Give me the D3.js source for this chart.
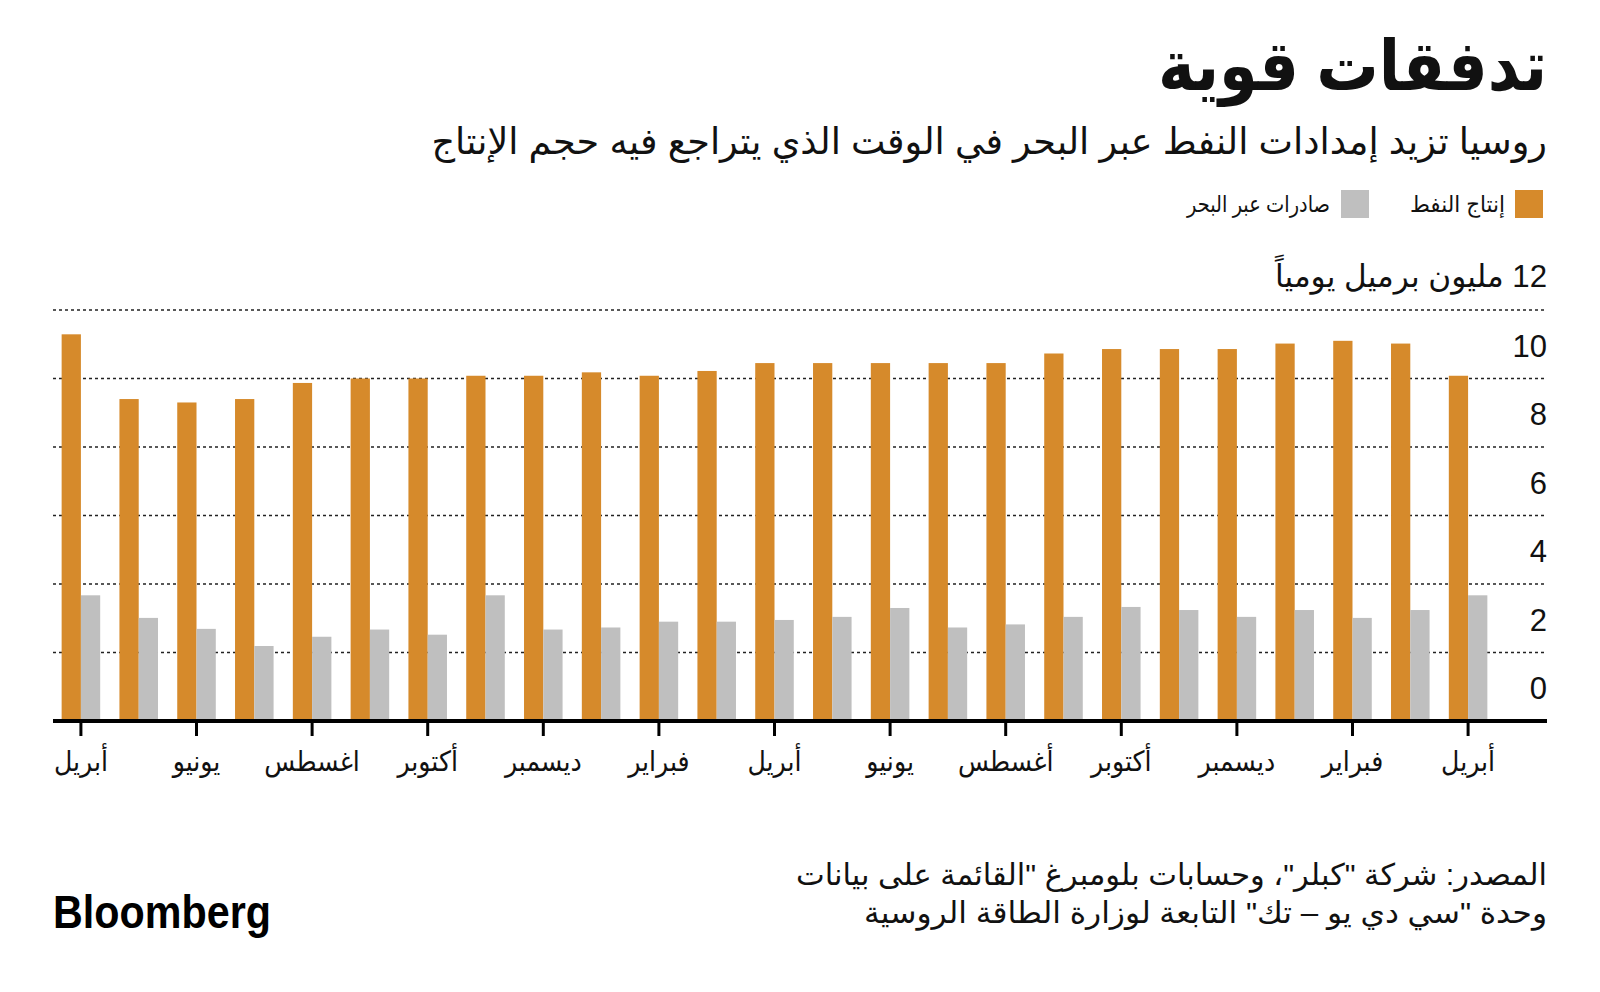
<!DOCTYPE html>
<html><head><meta charset="utf-8">
<script src="https://cdn.jsdelivr.net/npm/d3@7"></script>
<style>
body{margin:0;background:#fff}
svg{display:block}
text{font-family:"Liberation Sans","DejaVu Sans",sans-serif;fill:#111}
</style>
</head><body>
<svg id="chart" width="1600" height="992"></svg>
<script>
// ---- data ----
const months = ["2021-04","2021-05","2021-06","2021-07","2021-08","2021-09","2021-10","2021-11","2021-12",
  "2022-01","2022-02","2022-03","2022-04","2022-05","2022-06","2022-07","2022-08","2022-09","2022-10",
  "2022-11","2022-12","2023-01","2023-02","2023-03","2023-04"];
const production = [11.29,9.40,9.30,9.40,9.87,10.0,10.0,10.08,10.08,10.18,10.08,10.22,10.45,
  10.45,10.45,10.45,10.45,10.73,10.86,10.86,10.86,11.02,11.10,11.02,10.08];
const seaborne = [3.67,3.01,2.69,2.19,2.46,2.67,2.52,3.67,2.67,2.73,2.90,2.90,2.95,
  3.04,3.30,2.73,2.82,3.04,3.33,3.24,3.04,3.24,3.01,3.24,3.67];
const tickMonths = ["2021-04","2021-06","2021-08","2021-10","2021-12","2022-02","2022-04",
  "2022-06","2022-08","2022-10","2022-12","2023-02","2023-04"];
const tickLabels = ["أبريل","يونيو","اغسطس","أكتوبر","ديسمبر","فبراير","أبريل",
  "يونيو","أغسطس","أكتوبر","ديسمبر","فبراير","أبريل"];
const yTicks = [0,2,4,6,8,10];
const yGrid = [2,4,6,8,10,12];
const seriesKeys = ["production","seaborne"];
const seriesNames = ["إنتاج النفط","صادرات عبر البحر"];
const unitLabel = "12 مليون برميل يومياً";
const title = "تدفقات قوية";
const subtitle = "روسيا تزيد إمدادات النفط عبر البحر في الوقت الذي يتراجع فيه حجم الإنتاج";
const source1 = "المصدر: شركة \"كبلر\"، وحسابات بلومبرغ \"القائمة على بيانات";
const source2 = "وحدة \"سي دي يو – تك\" التابعة لوزارة الطاقة الروسية";

// ---- styles ----
const colors = {production:"#D68A2B", seaborne:"#BFBFBF"};
const svg = d3.select("#chart");
const RIGHT = 1547, LEFT = 53;

const rows = months.map((m,i)=>({month:m, production:production[i], seaborne:seaborne[i]}));

const x = d3.scaleBand().domain(months).range([52,1497]).paddingInner(0.333).paddingOuter(0.1667);
const xs = d3.scaleBand().domain(seriesKeys).range([0,x.bandwidth()]);
const y = d3.scaleLinear().domain([0,12]).range([721,310]);

// grid
svg.append("g").selectAll("line").data(yGrid).join("line")
  .attr("x1",LEFT).attr("x2",RIGHT).attr("y1",d=>y(d)).attr("y2",d=>y(d))
  .attr("stroke","#222").attr("stroke-width",1.6).attr("stroke-dasharray","3,3");

// bars
svg.append("g").selectAll("g").data(rows).join("g")
  .attr("transform",d=>`translate(${x(d.month)},0)`)
  .selectAll("rect").data(d=>seriesKeys.map(k=>({k,v:d[k]}))).join("rect")
  .attr("x",d=>xs(d.k)).attr("width",xs.bandwidth())
  .attr("y",d=>y(d.v)).attr("height",d=>y(0)-y(d.v))
  .attr("fill",d=>colors[d.k]);

// baseline
svg.append("line").attr("x1",LEFT).attr("x2",RIGHT).attr("y1",y(0)).attr("y2",y(0))
  .attr("stroke","#000").attr("stroke-width",4);

// x axis ticks + labels
const tickX = m => x(m)+x.bandwidth()/2;
svg.append("g").selectAll("line").data(tickMonths).join("line")
  .attr("x1",tickX).attr("x2",tickX).attr("y1",y(0)).attr("y2",y(0)+15)
  .attr("stroke","#000").attr("stroke-width",3);
const condense = 0.9;
svg.append("g").selectAll("text").data(tickMonths).join("text")
  .attr("x",tickX).attr("y",771).attr("text-anchor","middle")
  .attr("font-size",28).text((d,i)=>tickLabels[i])
  .each(function(){ const w=this.getComputedTextLength(); d3.select(this).attr("textLength",w*condense).attr("lengthAdjust","spacingAndGlyphs"); });

// y labels
svg.append("g").selectAll("text").data(yTicks).join("text")
  .attr("x",RIGHT).attr("y",d=>y(d)-22).attr("text-anchor","end")
  .attr("font-size",31).text(d=>d);

// helper for rtl text
function rtl(txt, xr, yb, size, len, weight){
  return svg.append("text").attr("x",xr).attr("y",yb).attr("direction","rtl")
    .attr("text-anchor","start").attr("font-size",size).attr("font-weight",weight||"normal")
    .attr("textLength",len).attr("lengthAdjust","spacingAndGlyphs").text(txt);
}
rtl(unitLabel, RIGHT, 287, 31, 272);
rtl(title, RIGHT, 90, 70, 389, "bold");

// subtitle: size chosen so it fills the reference width without stretching
const sub = svg.append("text").attr("x",RIGHT).attr("y",154).attr("direction","rtl")
  .attr("text-anchor","start").attr("font-size",40).text(subtitle);
const subW = sub.node().getComputedTextLength();
sub.attr("font-size", 40*1116/subW);

// legend
const legX = [1515,1341], legTextR = [1505,1330], legLen=[95,143];
seriesKeys.forEach((k,i)=>{
  svg.append("rect").attr("x",legX[i]).attr("y",190).attr("width",28).attr("height",28).attr("fill",colors[k]);
  rtl(seriesNames[i], legTextR[i], 212, 23, legLen[i]);
});

// source
rtl(source1, RIGHT, 885, 30, 751);
rtl(source2, RIGHT, 923, 30, 683);

// logo
svg.append("text").attr("x",53).attr("y",928).attr("font-size",46).attr("font-weight","bold")
  .attr("textLength",218).attr("lengthAdjust","spacingAndGlyphs").style("fill","#000").text("Bloomberg");
</script>
</body></html>
